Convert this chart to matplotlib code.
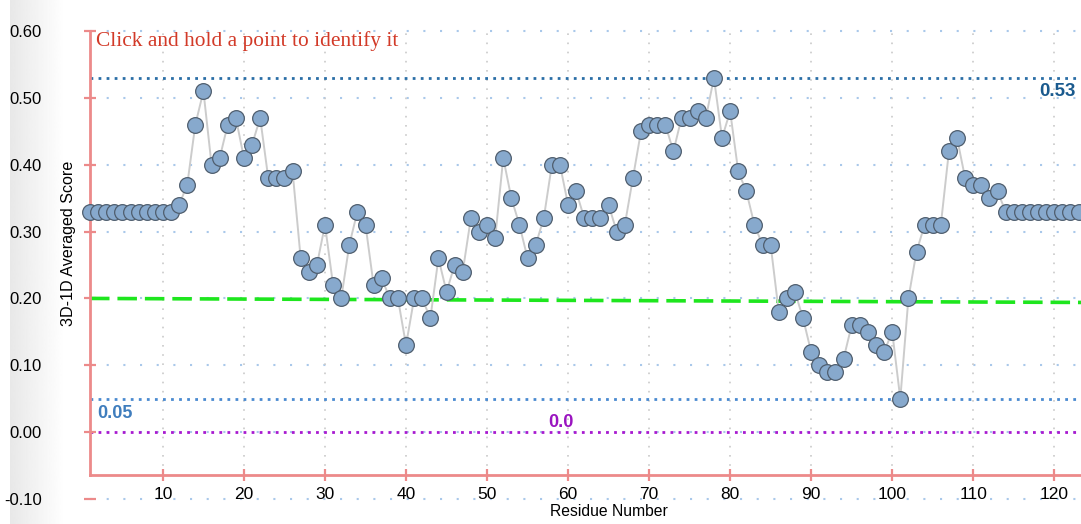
import numpy as np
import matplotlib.pyplot as plt

# residue scores
residues = list(range(1, 124))
scores = [0.33, 0.33, 0.33, 0.33, 0.33, 0.33, 0.33, 0.33, 0.33, 0.33,
          0.33, 0.34, 0.37, 0.46, 0.51, 0.40, 0.41, 0.46, 0.47, 0.41,
          0.43, 0.47, 0.38, 0.38, 0.38, 0.39, 0.26, 0.24, 0.25, 0.31,
          0.22, 0.20, 0.28, 0.33, 0.31, 0.22, 0.23, 0.20, 0.20, 0.13,
          0.20, 0.20, 0.17, 0.26, 0.21, 0.25, 0.24, 0.32, 0.30, 0.31,
          0.29, 0.41, 0.35, 0.31, 0.26, 0.28, 0.32, 0.40, 0.40, 0.34,
          0.36, 0.32, 0.32, 0.32, 0.34, 0.30, 0.31, 0.38, 0.45, 0.46,
          0.46, 0.46, 0.42, 0.47, 0.47, 0.48, 0.47, 0.53, 0.44, 0.48,
          0.39, 0.36, 0.31, 0.28, 0.28, 0.18, 0.20, 0.21, 0.17, 0.12,
          0.10, 0.09, 0.09, 0.11, 0.16, 0.16, 0.15, 0.13, 0.12, 0.15,
          0.05, 0.20, 0.27, 0.31, 0.31, 0.31, 0.42, 0.44, 0.38, 0.37,
          0.37, 0.35, 0.36, 0.33, 0.33, 0.33, 0.33, 0.33, 0.33, 0.33,
          0.33, 0.33, 0.33]

x_ticks = [10, 20, 30, 40, 50, 60, 70, 80, 90, 100, 110, 120]
y_ticks = [-0.10, 0.00, 0.10, 0.20, 0.30, 0.40, 0.50, 0.60]
y_ticklabels = ['-0.10', '0.00', '0.10', '0.20', '0.30', '0.40', '0.50', '0.60']

max_score = 0.53
min_score = 0.05
zero_level = 0.0
green_x = [1, 123.3]
green_y = [0.200, 0.194]

x_min, x_max = 1, 123.3
y_min, y_max = -0.10, 0.60
axis_level = -0.064

plt.rcParams['font.family'] = ['Liberation Sans', 'DejaVu Sans']

W, H = 1081, 524
fig = plt.figure(figsize=(W / 100, H / 100), dpi=100)

# grey strip behind the y tick labels
strip = fig.add_axes([10 / W, 0, 55 / W, 1])
grad = np.linspace(0.91, 1.0, 64).reshape(1, -1)
strip.imshow(grad, cmap='gray', vmin=0, vmax=1, aspect='auto', extent=[0, 1, 0, 1])
strip.axis('off')

ax = fig.add_axes([90 / W, 1 - 499 / H, (W - 90) / W, (499 - 31) / H])
ax.patch.set_alpha(0)
ax.set_xlim(x_min, x_max)
ax.set_ylim(y_min, y_max)

spine_col = '#ec8a8a'
for s in ['top', 'right']:
    ax.spines[s].set_visible(False)
ax.spines['bottom'].set_position(('data', axis_level))
ax.spines['left'].set_bounds(axis_level, y_max)
for s in ['left', 'bottom']:
    ax.spines[s].set_color(spine_col)
    ax.spines[s].set_linewidth(2)

ax.set_xticks(x_ticks)
ax.set_yticks(y_ticks)
ax.set_yticklabels(y_ticklabels)
ax.tick_params(axis='x', direction='inout', length=9, width=1.6, color=spine_col,
               pad=4.5, labelsize=12.5)
ax.tick_params(axis='y', direction='inout', length=9, width=1.6, color=spine_col,
               pad=30, labelsize=12)

# grid
for yv in y_ticks:
    ax.axhline(yv, color='#a9c8ea', lw=1.5, ls=(0, (1, 7)), zorder=0, clip_on=False)
ax.vlines(x_ticks, axis_level, y_max, color='#cacaca', lw=1.2, ls=(0, (1, 4.5)), zorder=0)

# threshold lines
ax.axhline(max_score, color='#2a6ea6', lw=2, ls=(0, (1, 1.9)), zorder=1)
ax.axhline(min_score, color='#4a8ad0', lw=2, ls=(0, (1, 1.9)), zorder=1)
ax.axhline(zero_level, color='#a81ad0', lw=2, ls=(0, (1, 1.9)), zorder=1)
ax.plot(green_x, green_y, color='#1ee61e', lw=2.6, ls=(0, (5.4, 2.2)), zorder=2)

# data
ax.plot(residues, scores, color='#cccccc', lw=1.4, zorder=3, clip_on=False)
ax.plot(residues, scores, 'o', ms=11.3, mfc='#87a9cd', mec='#4f5e6e', mew=0.9,
        zorder=4, clip_on=False)

ax.text(1.8, 0.585, 'Click and hold a point to identify it', color='#d23a28',
        fontsize=15.4, family=['Liberation Serif', 'DejaVu Serif'], va='center', ha='left')
ax.text(122.6, 0.509, '0.53', color='#1a5a8e', fontsize=13.5, fontweight='bold',
        ha='right', va='center')
ax.text(1.95, 0.028, '0.05', color='#3f7dbd', fontsize=13, fontweight='bold',
        ha='left', va='center')
ax.text(57.5, 0.015, '0.0', color='#9a14c0', fontsize=13, fontweight='bold',
        ha='left', va='center')

fig.text(609 / W, 1 - 512 / H, 'Residue Number', fontsize=11.3, ha='center', va='center')
fig.text(68 / W, 1 - 243 / H, '3D-1D Averaged Score', fontsize=11.6, rotation=90,
         ha='center', va='center')

fig.savefig('out.png', dpi=100)
